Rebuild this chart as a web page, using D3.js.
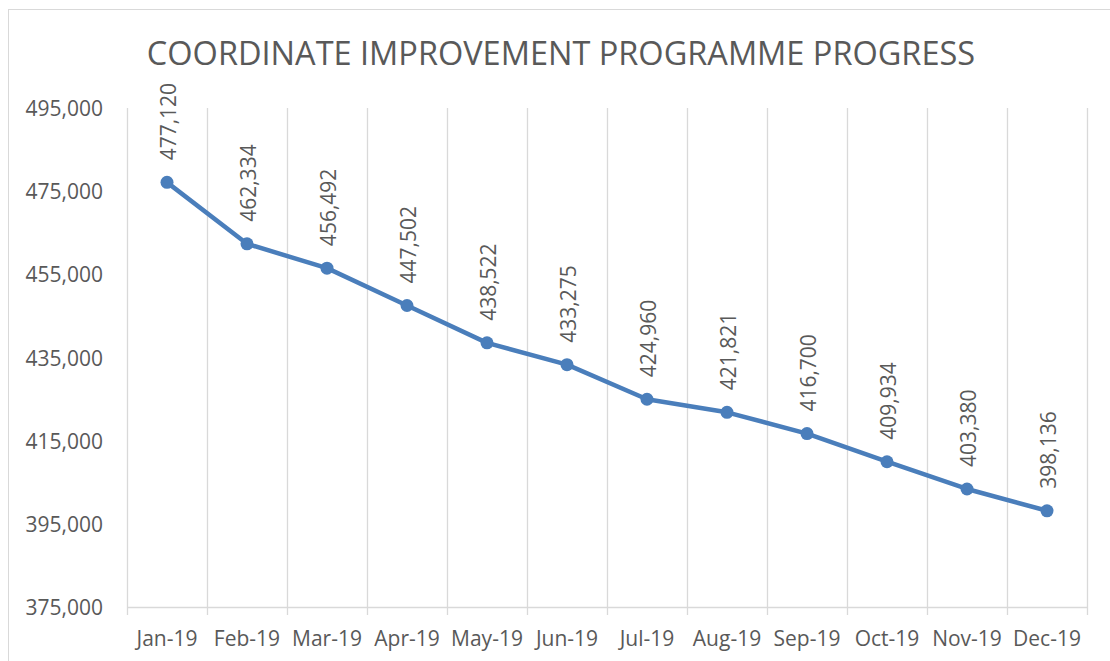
<!DOCTYPE html>
<html>
<head>
<meta charset="utf-8">
<script src="https://cdn.jsdelivr.net/npm/d3@7"></script>
<style>
  html, body { margin: 0; padding: 0; background: #fff; }
  svg { display: block; }
  text { font-family: "Open Sans", "Liberation Sans", sans-serif; fill: #595959; }
</style>
</head>
<body>
<script>
const title = "COORDINATE IMPROVEMENT PROGRAMME PROGRESS";
const months = ["Jan-19","Feb-19","Mar-19","Apr-19","May-19","Jun-19","Jul-19","Aug-19","Sep-19","Oct-19","Nov-19","Dec-19"];
const values = [477120, 462334, 456492, 447502, 438522, 433275, 424960, 421821, 416700, 409934, 403380, 398136];
const yTicks = [375000, 395000, 415000, 435000, 455000, 475000, 495000];

(function () {
const W = 1110, H = 661;
const svg = d3.select("body").append("svg").attr("width", W).attr("height", H);

// outer chart border
svg.append("rect")
  .attr("x", 8.5).attr("y", 9.5)
  .attr("width", W + 10).attr("height", H + 10)
  .attr("fill", "#fff").attr("stroke", "#d9d9d9").attr("stroke-width", 1);

const pL = 127, pR = 1087, pT = 108, pB = 607;

const x = d3.scaleBand().domain(months).range([pL, pR]);
const y = d3.scaleLinear().domain([375000, 495000]).range([pB, pT]);

// vertical gridlines at band boundaries
const bounds = months.map(m => x(m)).concat([pR]);
svg.append("g").selectAll("line").data(bounds).join("line")
  .attr("x1", d => Math.round(d) + 0.5).attr("x2", d => Math.round(d) + 0.5)
  .attr("y1", pT).attr("y2", pB + 8)
  .attr("stroke", "#d9d9d9").attr("stroke-width", 1.3);

// x axis line
svg.append("line")
  .attr("x1", pL).attr("x2", pR + 1)
  .attr("y1", pB + 0.5).attr("y2", pB + 0.5)
  .attr("stroke", "#d9d9d9").attr("stroke-width", 1.5);

// y tick labels
const fmt = d3.format(",");
svg.append("g").selectAll("text").data(yTicks).join("text")
  .attr("x", 103).attr("y", d => y(d))
  .attr("text-anchor", "end").attr("dominant-baseline", "central")
  .style("font-size", "21px")
  .text(d => fmt(d));

// x tick labels
svg.append("g").selectAll("text").data(months).join("text")
  .attr("x", d => x(d) + x.bandwidth() / 2).attr("y", 638)
  .attr("text-anchor", "middle").attr("dominant-baseline", "central")
  .style("font-size", "21px")
  .text(d => d);

// title
svg.append("text")
  .attr("x", 561).attr("y", 65)
  .attr("text-anchor", "middle")
  .style("font-size", "32.5px")
  .text(title);

const data = months.map((m, i) => ({ m, v: values[i] }));
const cx = d => x(d.m) + x.bandwidth() / 2;

// line
svg.append("path").datum(data)
  .attr("fill", "none").attr("stroke", "#4a7ebb").attr("stroke-width", 4.5)
  .attr("stroke-linejoin", "round")
  .attr("d", d3.line().x(cx).y(d => y(d.v)));

// markers
svg.append("g").selectAll("circle").data(data).join("circle")
  .attr("cx", cx).attr("cy", d => y(d.v)).attr("r", 6.5)
  .attr("fill", "#4a7ebb");

// data labels (rotated)
svg.append("g").selectAll("text").data(data).join("text")
  .attr("transform", d => `translate(${cx(d) + 1},${y(d.v) - 22}) rotate(-90)`)
  .attr("text-anchor", "start").attr("dominant-baseline", "central")
  .style("font-size", "21px")
  .text(d => fmt(d.v));
})();
</script>
</body>
</html>
